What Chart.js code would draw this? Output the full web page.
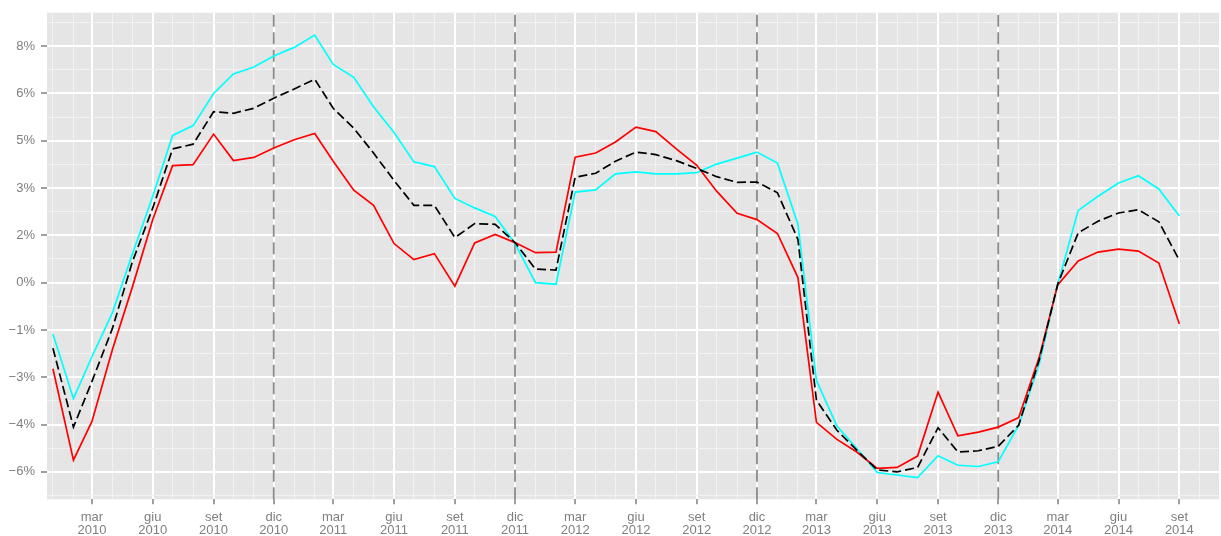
<!DOCTYPE html>
<html>
<head>
<meta charset="utf-8">
<script src="https://cdn.jsdelivr.net/npm/chart.js@4.4.1/dist/chart.umd.min.js"></script>
<style>
html,body{margin:0;padding:0;background:#ffffff;}
#wrap{width:1221px;height:536px;position:relative;}
</style>
</head>
<body>
<div id="wrap"><canvas id="c" width="1221" height="536"></canvas></div>
<script>
// ---- categories (monthly observations) ----
const months = [
 '2010-01','2010-02','2010-03','2010-04','2010-05','2010-06','2010-07','2010-08','2010-09','2010-10','2010-11','2010-12',
 '2011-01','2011-02','2011-03','2011-04','2011-05','2011-06','2011-07','2011-08','2011-09','2011-10','2011-11','2011-12',
 '2012-01','2012-02','2012-03','2012-04','2012-05','2012-06','2012-07','2012-08','2012-09','2012-10','2012-11','2012-12',
 '2013-01','2013-02','2013-03','2013-04','2013-05','2013-06','2013-07','2013-08','2013-09','2013-10','2013-11','2013-12',
 '2014-01','2014-02','2014-03','2014-04','2014-05','2014-06','2014-07','2014-08','2014-09'
];

// ---- series values (%) ----
const seriesRed = [
 -2.73,-5.63,-4.40,-2.12,-0.15,2.00,3.71,3.74,4.71,3.87,3.97,4.27,
 4.53,4.73,3.85,2.93,2.45,1.24,0.73,0.92,-0.11,1.26,1.53,1.27,
 0.95,0.97,3.98,4.11,4.46,4.93,4.79,4.24,3.72,2.90,2.20,2.00,
 1.56,0.16,-4.43,-4.97,-5.37,-5.89,-5.86,-5.50,-3.47,-4.86,-4.74,-4.58,
 -4.28,-2.37,-0.07,0.69,0.97,1.06,1.00,0.62,-1.31
];
const seriesBlack = [
 -2.08,-4.58,-3.13,-1.45,0.65,2.37,4.24,4.39,5.42,5.37,5.53,5.85,
 6.14,6.45,5.53,4.90,4.11,3.24,2.45,2.45,1.43,1.87,1.85,1.27,
 0.43,0.40,3.34,3.47,3.85,4.14,4.06,3.87,3.62,3.36,3.18,3.19,
 2.85,1.37,-3.73,-4.68,-5.31,-5.94,-6.00,-5.86,-4.60,-5.37,-5.33,-5.19,
 -4.52,-2.45,-0.05,1.58,1.95,2.21,2.31,1.93,0.71
];
const seriesCyan = [
 -1.63,-3.68,-2.35,-0.95,0.90,2.74,4.67,4.98,6.00,6.62,6.84,7.19,
 7.46,7.85,6.92,6.51,5.58,4.76,3.83,3.68,2.67,2.37,2.10,1.24,
 0.00,-0.05,2.87,2.94,3.45,3.51,3.45,3.45,3.49,3.76,3.95,4.14,
 3.79,1.85,-3.10,-4.55,-5.26,-6.02,-6.10,-6.18,-5.49,-5.79,-5.83,-5.68,
 -4.52,-2.57,-0.05,2.29,2.74,3.16,3.39,2.97,2.11
];

// ---- axis ticks / labels ----
const monthNames = ['gen','feb','mar','apr','mag','giu','lug','ago','set','ott','nov','dic'];
const xGridMonths = months.concat(['2014-10']);
const xMajorMonthNumbers = [3,6,9,12];
const yTickValues = [-6,-4.5,-3,-1.5,0,1.5,3,4.5,6,7.5];
const yTickLabels = ['\u22126%','\u22124%','\u22123%','\u22121%','0%','2%','3%','5%','6%','8%'];
const yMinorValues = [-6.75,-5.25,-3.75,-2.25,-0.75,0.75,2.25,3.75,5.25,6.75,8.25];
const decemberLines = ['2010-12','2011-12','2012-12','2013-12'];
const yRange = [-6.87, 8.56];
const xRangeDays = [-9, 1764];

// ---- helpers ----
const DAY = 86400000;
const origin = Date.UTC(2010,0,1);
function dayOf(ym){ const [y,m] = ym.split('-').map(Number); return (Date.UTC(y,m-1,1)-origin)/DAY; }
function monthOfDay(d){ const dt = new Date(origin + d*DAY); return [dt.getUTCFullYear(), dt.getUTCMonth()+1]; }
function isMajorX(v){ const [y,m] = monthOfDay(v); return xMajorMonthNumbers.includes(m); }
function isMajorY(v){ return yTickValues.includes(v); }

const toPoints = arr => months.map((m,i)=>({x:dayOf(m), y:arr[i]}));

const vlineSets = decemberLines.map(m => ({
  data:[{x:dayOf(m), y:yRange[0]},{x:dayOf(m), y:yRange[1]}],
  borderColor:'#8a8a8a', borderWidth:1.8, borderDash:[12,5.5],
  pointRadius:0, fill:false, order:5
}));

const panelBg = {
  id:'panelBg',
  beforeDraw(chart){
    const {ctx, chartArea:a} = chart;
    ctx.save(); ctx.fillStyle = '#e5e5e5';
    ctx.fillRect(a.left, a.top, a.right-a.left, a.bottom-a.top);
    ctx.restore();
  }
};

const FONT = {family:"'Liberation Sans', Arial, Helvetica, sans-serif", size:13, lineHeight:1.03};

new Chart(document.getElementById('c'), {
  type:'line',
  data:{
    datasets:[
      {data:toPoints(seriesBlack), borderColor:'#000000', borderWidth:1.7, borderDash:[9,4], pointRadius:0, tension:0, order:0},
      {data:toPoints(seriesRed), borderColor:'#ff0000', borderWidth:1.7, pointRadius:0, tension:0, order:1},
      {data:toPoints(seriesCyan), borderColor:'#00ffff', borderWidth:1.7, pointRadius:0, tension:0, order:2},
      ...vlineSets
    ]
  },
  options:{
    responsive:false, animation:false, devicePixelRatio:1,
    layout:{padding:{top:10.7, right:2, left:0, bottom:0}},
    plugins:{legend:{display:false}, tooltip:{enabled:false}},
    scales:{
      x:{
        type:'linear', min:xRangeDays[0], max:xRangeDays[1],
        afterBuildTicks: s => { s.ticks = xGridMonths.map(m => ({value:dayOf(m)})); },
        afterFit: s => { s.height = 36.7; },
        border:{display:false},
        grid:{
          color: c => (c.tick && isMajorX(c.tick.value)) ? '#ffffff' : '#f2f2f2',
          lineWidth: c => (c.tick && isMajorX(c.tick.value)) ? 2 : 1,
          tickColor: c => (c.tick && isMajorX(c.tick.value)) ? '#7f7f7f' : 'rgba(0,0,0,0)',
          tickLength:5, tickWidth:1.5
        },
        ticks:{
          autoSkip:false, maxRotation:0, minRotation:0, padding:6,
          color:'#7f7f7f', font:FONT,
          callback: v => { const [y,m] = monthOfDay(v); return xMajorMonthNumbers.includes(m) ? [monthNames[m-1], String(y)] : ''; }
        }
      },
      y:{
        type:'linear', min:yRange[0], max:yRange[1],
        afterBuildTicks: s => { s.ticks = yTickValues.concat(yMinorValues).sort((a,b)=>a-b).map(v=>({value:v})); },
        afterFit: s => { s.width = 47; },
        border:{display:false},
        grid:{
          color: c => (c.tick && isMajorY(c.tick.value)) ? '#ffffff' : '#f2f2f2',
          lineWidth: c => (c.tick && isMajorY(c.tick.value)) ? 2 : 1,
          tickColor: c => (c.tick && isMajorY(c.tick.value)) ? '#7f7f7f' : 'rgba(0,0,0,0)',
          tickLength:6, tickWidth:1.5
        },
        ticks:{
          autoSkip:false, padding:6, color:'#7f7f7f', font:FONT,
          callback: v => { const i = yTickValues.indexOf(v); return i >= 0 ? yTickLabels[i] : ''; }
        }
      }
    }
  },
  plugins:[panelBg]
});
</script>
</body>
</html>
